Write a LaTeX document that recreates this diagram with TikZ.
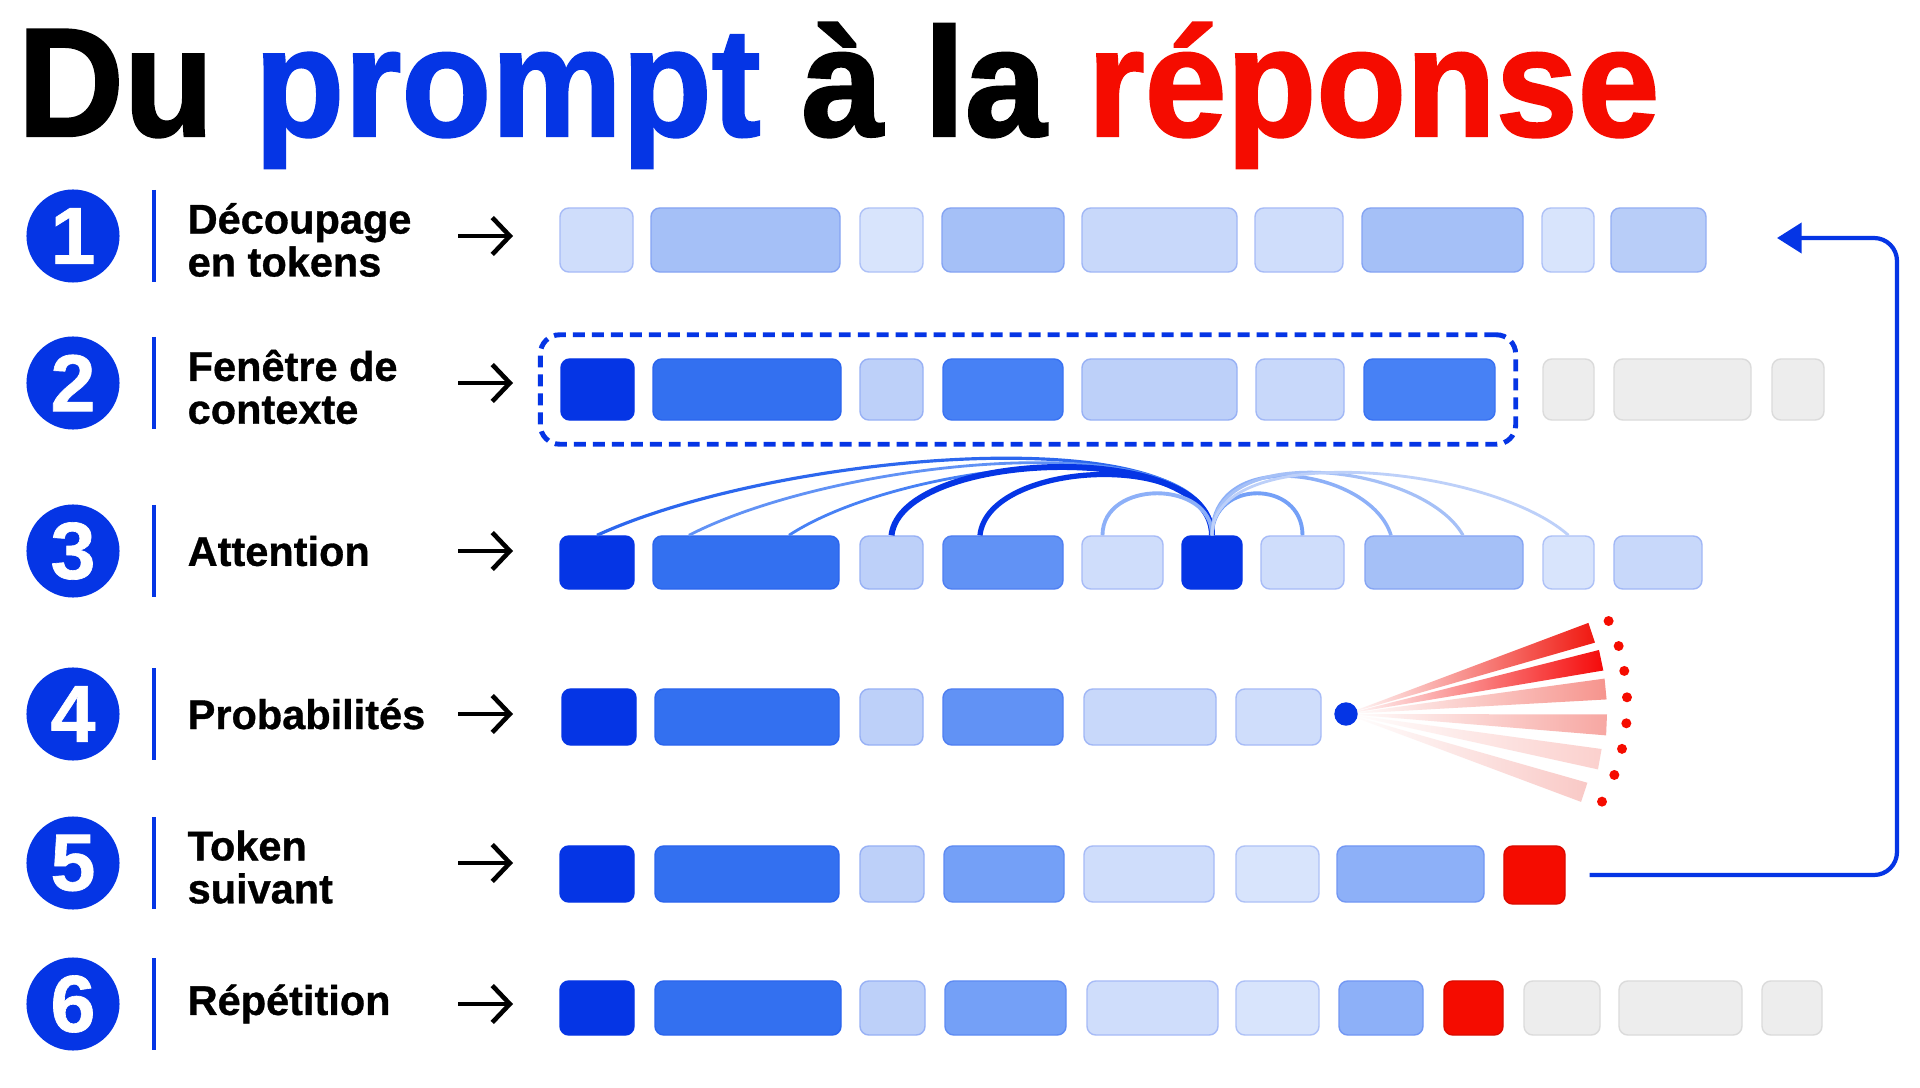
\documentclass[tikz,border=0pt]{standalone}
\usepackage{fontspec}
\setmainfont{Liberation Sans}
\newfontfamily\titlefont{Liberation Sans}[FakeStretch=0.95,FakeBold=1.5]
\newfontfamily\labelfont{Liberation Sans}[FakeBold=0.8]
\usetikzlibrary{arrows.meta,fit}

\definecolor{tokdark}{HTML}{0535E5}
\definecolor{tokmid}{HTML}{3370F0}
\definecolor{shadeC}{HTML}{4781F5}
\definecolor{shadeD}{HTML}{6192F5}
\definecolor{shadeE}{HTML}{74A0F7}
\definecolor{shadeF}{HTML}{8DB0F8}
\definecolor{shadeG}{HTML}{A5C0F7}
\definecolor{shadeH}{HTML}{BDD0F9}
\definecolor{shadeI}{HTML}{B8CDF8}
\definecolor{shadeJ}{HTML}{C8D8FA}
\definecolor{shadeK}{HTML}{CFDDFB}
\definecolor{shadeL}{HTML}{D8E4FC}
\definecolor{tokgray}{HTML}{EDEDED}
\definecolor{tokred}{HTML}{F50C00}
\definecolor{wedgeA}{HTML}{F01810}
\definecolor{wedgeB}{HTML}{F50A0A}
\definecolor{wedgeC}{HTML}{F6948D}
\definecolor{wedgeD}{HTML}{F7A7A2}
\definecolor{wedgeE}{HTML}{FBD0CD}
\definecolor{wedgeF}{HTML}{F9C9C6}

\begin{document}
\begin{tikzpicture}[x=0.01cm,y=-0.01cm,
    step_circle/.style={circle,fill=tokdark,text=white,inner sep=0pt,minimum size=0.93cm,font=\labelfont\bfseries\fontsize{23}{23}\selectfont},
    step_label/.style={anchor=west,align=left,inner sep=0pt,font=\labelfont\bfseries\fontsize{11.8}{12.2}\selectfont},
    tok/.style={rectangle,rounded corners=2.5pt,fill=#1,draw=#1!80!tokdark,line width=0.4pt,inner sep=0pt},
    red_tok/.style={rectangle,rounded corners=2.5pt,fill=tokred,draw=tokred!90!black,line width=0.4pt,inner sep=0pt},
    gray_tok/.style={rectangle,rounded corners=2.5pt,fill=tokgray,draw=black!14,line width=0.4pt,inner sep=0pt},
    ctx_box/.style={draw=tokdark,line width=1.4pt,dash pattern=on 3.4pt off 2pt,rounded corners=5.5pt,inner xsep=0.2cm,inner ysep=0.235cm},
    row_arrow/.style={-{Straight Barb[length=5pt,width=10.5pt]},line width=1.3pt},
    bar_line/.style={draw=tokdark,line width=1.2pt},
    att_line/.style={draw=#1},
    prob_dot/.style={circle,fill=tokdark,inner sep=0pt,minimum size=0.234cm},
    loop_line/.style={draw=tokdark,line width=1.2pt,rounded corners=0.23cm,-{Triangle[length=7pt,width=8.5pt]}}]

    \fill[white] (0,0) rectangle (1920,1088);
    \useasboundingbox (0,0) rectangle (1920,1088);

    \node[anchor=base west,inner sep=0pt,font=\titlefont\bfseries\fontsize{44}{44}\selectfont] (title) at (17,136)
        {Du \textcolor{tokdark}{prompt} à la \textcolor{tokred}{réponse}};

    % numbers, bars and arrows
    \foreach \n/\y in {1/236,2/383,3/551,4/714,5/863,6/1004} {
        \node[step_circle] (c\n) at (73,\y) {\n};
        \draw[bar_line] (154,\y-46) -- (154,\y+46);
        \coordinate (as\n) at (458,\y);
        \coordinate (ae\n) at (513,\y);
        \draw[row_arrow] (as\n) -- (ae\n);
    }

    \node[step_label] (l1) at (187,240) {Découpage\\en tokens};
    \node[step_label] (l2) at (187,387) {Fenêtre de\\contexte};
    \node[step_label] (l3) at (187,551) {Attention};
    \node[step_label] (l4) at (187,714) {Probabilités};
    \node[step_label] (l5) at (187,867) {Token\\suivant};
    \node[step_label] (l6) at (187,1004) {Répétition};

    % row 1
    \foreach \a/\b/\c [count=\i] in {560/633/shadeK,651/840/shadeG,860/923/shadeL,942/1064/shadeG,1082/1237/shadeJ,1255/1343/shadeK,1362/1523/shadeG,1542/1594/shadeL,1611/1706/shadeI}
        \node[tok=\c,minimum width={(\b-\a)*0.01cm},minimum height=0.64cm] (r1-\i) at ({(\a+\b)/2},240) {};

    % row 2
    \foreach \a/\b/\c [count=\i] in {561/634/tokdark,653/841/tokmid,860/923/shadeH,943/1063/shadeC,1082/1237/shadeH,1256/1344/shadeJ,1364/1495/shadeC}
        \node[tok=\c,minimum width={(\b-\a)*0.01cm},minimum height=0.61cm] (r2-\i) at ({(\a+\b)/2},389.5) {};
    \foreach \a/\b [count=\i] in {1543/1594,1614/1751,1772/1824}
        \node[gray_tok,minimum width={(\b-\a)*0.01cm},minimum height=0.61cm] (g2-\i) at ({(\a+\b)/2},389.5) {};
    \node[ctx_box,fit=(r2-1)(r2-7)] (ctx) {};

    % row 3
    \foreach \a/\b/\c [count=\i] in {560/634/tokdark,653/839/tokmid,860/923/shadeH,943/1063/shadeD,1082/1163/shadeK,1182/1242/tokdark,1261/1344/shadeK,1365/1523/shadeG,1543/1594/shadeL,1614/1702/shadeJ}
        \node[tok=\c,minimum width={(\b-\a)*0.01cm},minimum height=0.53cm] (r3-\i) at ({(\a+\b)/2},562.5) {};
    \draw[att_line={tokmid!85!tokdark},line width=0.9pt] (r3-6.north) .. controls +(0,-120) and +(183,-84) .. (r3-1.north);
    \draw[att_line=shadeD,line width=0.8pt] (r3-6.north) .. controls +(0,-114) and +(151,-78) .. ([xshift=-0.57cm]r3-2.north);
    \draw[att_line=shadeC,line width=0.8pt] (r3-6.north) .. controls +(0,-108) and +(111,-73) .. ([xshift=0.43cm]r3-2.north);
    \draw[att_line=tokdark,line width=1.7pt] (r3-6.north) .. controls +(0,-96) and +(10,-86) .. (r3-3.north);
    \draw[att_line=tokdark,line width=1.5pt] (r3-6.north) .. controls +(0,-86) and +(8,-76) .. ([xshift=-0.23cm]r3-4.north);
    \draw[att_line=shadeF,line width=1.1pt] (r3-6.north) .. controls +(0,-56) and +(0,-56) .. ([xshift=-0.2cm]r3-5.north);
    \draw[att_line=shadeE,line width=1.1pt] (r3-6.north) .. controls +(0,-56) and +(0,-56) .. (r3-7.north);
    \draw[att_line=shadeF,line width=1pt] (r3-6.north) .. controls +(0,-91) and +(-20,-66) .. ([xshift=-0.53cm]r3-8.north);
    \draw[att_line=shadeG,line width=0.9pt] (r3-6.north) .. controls +(0,-96) and +(-40,-71) .. ([xshift=0.19cm]r3-8.north);
    \draw[att_line=shadeH,line width=0.8pt] (r3-6.north) .. controls +(0,-96) and +(-80,-71) .. (r3-9.north);

    % row 4
    \foreach \a/\b/\c [count=\i] in {562/636/tokdark,655/839/tokmid,860/923/shadeH,943/1063/shadeD,1084/1216/shadeJ,1236/1321/shadeK}
        \node[tok=\c,minimum width={(\b-\a)*0.01cm},minimum height=0.56cm] (r4-\i) at ({(\a+\b)/2},717) {};
    \coordinate (fan) at (1346,714);
    \foreach \ang/\rad/\col in {-18.3/259/wedgeA,-11.9/261/wedgeB,-5.5/261/wedgeC,2.4/261/wedgeD,10.1/258/wedgeE,18.2/251/wedgeF}
        \shade[left color=white,right color=\col] (fan) -- +({\ang-2.3}:\rad) -- +({\ang+2.3}:\rad) -- cycle;
    \node[prob_dot] (dot) at (fan) {};
    \foreach \ang/\rad in {-19.5/278.6,-14/281,-8.8/281.6,-3.4/281.5,1.9/280.5,7.2/278.2,12.8/275.2,18.9/270.6}
        \fill[tokred] (dot.center) ++(\ang:\rad) circle[radius=5];

    % row 5
    \foreach \a/\b/\c [count=\i] in {560/634/tokdark,655/839/tokmid,860/924/shadeH,944/1064/shadeE,1084/1214/shadeK,1236/1319/shadeL,1337/1484/shadeF}
        \node[tok=\c,minimum width={(\b-\a)*0.01cm},minimum height=0.56cm] (r5-\i) at ({(\a+\b)/2},874) {};
    \node[red_tok,minimum width=0.61cm,minimum height=0.58cm] (r5-8) at (1534.5,875) {};

    % row 6
    \foreach \a/\b/\c [count=\i] in {560/634/tokdark,655/841/tokmid,860/925/shadeH,945/1066/shadeE,1087/1218/shadeK,1236/1319/shadeL,1339/1423/shadeF}
        \node[tok=\c,minimum width={(\b-\a)*0.01cm},minimum height=0.54cm] (r6-\i) at ({(\a+\b)/2},1008) {};
    \node[red_tok,minimum width=0.59cm,minimum height=0.54cm] (r6-8) at (1473.5,1008) {};
    \foreach \a/\b [count=\i] in {1524/1600,1619/1742,1762/1822}
        \node[gray_tok,minimum width={(\b-\a)*0.01cm},minimum height=0.54cm] (g6-\i) at ({(\a+\b)/2},1008) {};

    % loop back to the first row
    \coordinate (loop_start) at ([xshift=0.24cm]r5-8.east);
    \coordinate (loop_side) at (1897,555);
    \coordinate (loop_end) at (1777,238);
    \draw[loop_line] (loop_start) -| (loop_side) |- (loop_end);
\end{tikzpicture}
\end{document}
